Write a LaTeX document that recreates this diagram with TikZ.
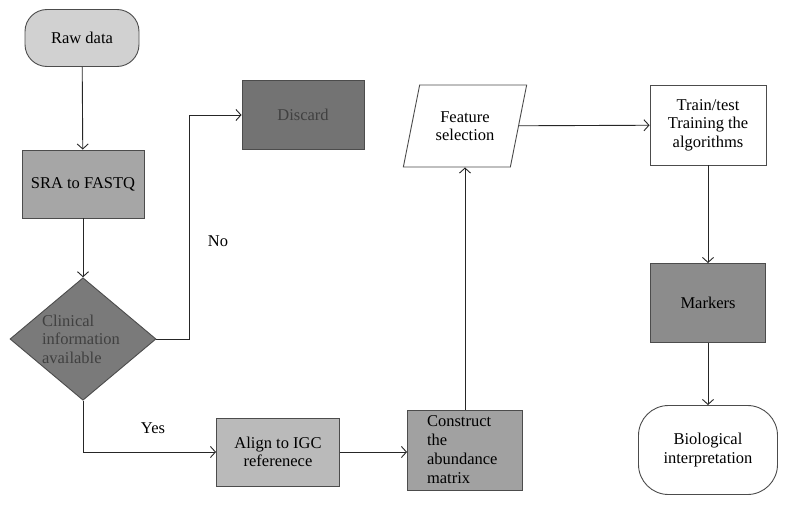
\documentclass[tikz,border=0pt]{standalone}
\usepackage{fontspec}
\setmainfont{Liberation Serif}
\usetikzlibrary{arrows.meta,shapes.geometric,positioning}

\tikzset{
  box/.style={draw=black!70, line width=0.9pt, align=center, font=\fontsize{16.5}{18.5}\selectfont},
  arr/.style={draw=black!85, line width=0.9pt, -{Straight Barb[length=5pt,width=11pt]}},
}

\begin{document}
\begin{tikzpicture}[x=1pt,y=-1pt]
  \useasboundingbox (0,0) rectangle (789,506);
  \node[box, fill=black!18, rounded corners=22pt, minimum width=114pt, minimum height=57pt] (raw) at (82,38) {Raw data};
  \node[box, fill=black!35, minimum width=122pt, minimum height=68pt] (sra) at (83,184) {SRA to FASTQ};
  \node[box, diamond, fill=black!52, minimum width=146pt, minimum height=121pt, inner sep=0pt, text=black!75, align=left] (clin) at (83,339) {\hspace*{-4pt}Clinical\\\hspace*{-4pt}information\\\hspace*{-4pt}available};
  \node[box, fill=black!55, minimum width=122pt, minimum height=69pt, text=black!75] (discard) at (303,115) {Discard};
  \node[box, fill=black!27, minimum width=123pt, minimum height=68pt] (align) at (278,452) {Align to IGC\\referenece};
  \node[box, fill=black!37, minimum width=115pt, minimum height=80pt, align=left, text width=76pt, font=\fontsize{16.5}{19}\selectfont] (construct) at (465,450) {Construct\\the\\abundance\\matrix};
  \node[box, trapezium, trapezium left angle=72, trapezium right angle=108, trapezium stretches=true, fill=white, minimum width=124pt, minimum height=82pt] (feature) at (465,126) {Feature\\selection};
  \node[box, fill=white, minimum width=116pt, minimum height=80pt] (train) at (708,125) {Train/test\\Training the\\algorithms};
  \node[box, fill=black!45, minimum width=115pt, minimum height=79pt] (markers) at (708,303) {Markers};
  \node[box, fill=white, rounded corners=30pt, minimum width=139pt, minimum height=89pt] (bio) at (708,450) {Biological\\interpretation};
  \node[font=\fontsize{16.5}{18.5}\selectfont] (noLbl) at (218,241) {No};
  \node[font=\fontsize{16.5}{18.5}\selectfont] (yesLbl) at (153,428) {Yes};

  \draw[arr] (raw) -- (sra);
  \draw[arr] (sra) -- (clin);
  \draw[arr] (clin.east) -- +(33,0) |- (discard.west);
  \draw[arr] (clin.south) |- (align.west);
  \draw[arr] (align.east) -- (align.east -| construct.west);
  \draw[arr] (construct) -- (feature);
  \draw[arr] (feature) -- (train);
  \draw[arr] (train) -- (markers);
  \draw[arr] (markers) -- (bio);
\end{tikzpicture}
\end{document}
